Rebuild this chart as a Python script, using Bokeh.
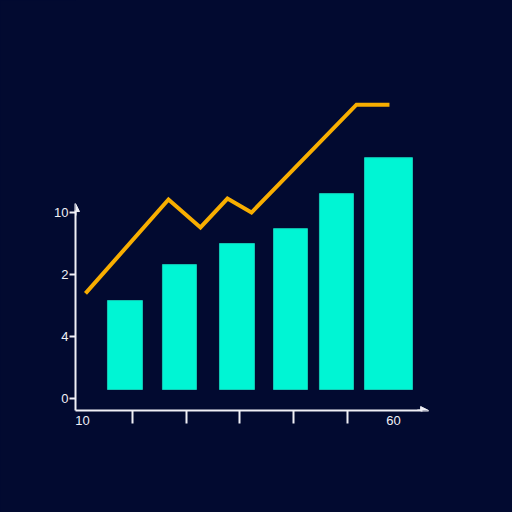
from bokeh.plotting import figure
from bokeh.models import FixedTicker, Range1d, Arrow, NormalHead
from bokeh.embed import file_html
from bokeh.resources import INLINE

# ---- data ----
bar_x = [0.86, 1.874, 2.944, 3.94, 4.795, 5.763]
bar_w = [0.651, 0.633, 0.651, 0.633, 0.633, 0.893]
bar_top = [3.16, 4.32, 5.0, 5.48, 6.61, 7.77]
bar_bottom = [0.29, 0.29, 0.29, 0.29, 0.29, 0.29]

line_x = [0.126, 1.670, 2.265, 2.767, 3.214, 5.167, 5.781]
line_y = [3.39, 6.42, 5.52, 6.45, 6.0, 9.48, 9.48]

y_ticks = [0, 2, 4, 6]
y_tick_labels = ["0", "4", "2", "10"]
x_label_pos = [0.07, 5.856]
x_tick_labels = ["10", "60"]
x_minor_ticks = [1, 2, 3, 4, 5]

BG = "#020a30"
AXIS = "#f0f0f6"
BAR = "#00f5d4"
LINE = "#f8ae00"

p = figure(width=512, height=512, output_backend="svg", toolbar_location=None,
           x_range=Range1d(-0.06, 8.07), y_range=Range1d(-0.387, 12.84),
           min_border_left=75, min_border_bottom=102, min_border_top=0, min_border_right=0)
p.background_fill_color = BG
p.border_fill_color = BG
p.outline_line_color = None
p.grid.visible = False

p.vbar(x=bar_x, width=bar_w, top=bar_top, bottom=bar_bottom,
       fill_color=BAR, line_color="#12c8b4", line_width=1)
p.line(line_x, line_y, line_color=LINE, line_width=4, line_join="miter")

# y axis
ya = p.yaxis[0]
ya.ticker = FixedTicker(ticks=y_ticks)
ya.major_label_overrides = {t: l for t, l in zip(y_ticks, y_tick_labels)}
ya.bounds = (-0.387, 6.06)
ya.axis_line_color = AXIS
ya.axis_line_width = 2
ya.major_tick_line_color = AXIS
ya.major_tick_line_width = 2
ya.major_tick_out = 6
ya.major_tick_in = 0
ya.minor_tick_line_color = None
ya.major_label_standoff = 1
ya.major_label_text_color = AXIS
ya.major_label_text_font = "Liberation Sans"
ya.major_label_text_font_size = "13px"

# x axis
xa = p.xaxis[0]
xa.ticker = FixedTicker(ticks=x_label_pos, minor_ticks=x_minor_ticks)
xa.major_label_overrides = {t: l for t, l in zip(x_label_pos, x_tick_labels)}
xa.bounds = (-0.06, 6.4)
xa.axis_line_color = AXIS
xa.axis_line_width = 2
xa.major_tick_line_color = None
xa.major_tick_out = 0
xa.major_tick_in = 0
xa.minor_tick_line_color = AXIS
xa.minor_tick_line_width = 2
xa.minor_tick_out = 13
xa.minor_tick_in = 0
xa.major_label_standoff = -8
xa.major_label_text_color = AXIS
xa.major_label_text_font = "Liberation Sans"
xa.major_label_text_font_size = "13px"

# arrow heads
p.add_layout(Arrow(x_start=-0.06, y_start=5.9, x_end=-0.06, y_end=6.29,
                   line_color=AXIS, line_width=2,
                   end=NormalHead(size=8, fill_color=AXIS, line_color=AXIS)))
p.add_layout(Arrow(x_start=6.3, y_start=-0.387, x_end=6.51, y_end=-0.387,
                   line_color=AXIS, line_width=2,
                   end=NormalHead(size=8, fill_color=AXIS, line_color=AXIS)))

html = file_html(p, INLINE)
html = html.replace("</head>", "<style>html,body{background-color:#020a30;}</style></head>", 1)
open("out.html", "w").write(html)
